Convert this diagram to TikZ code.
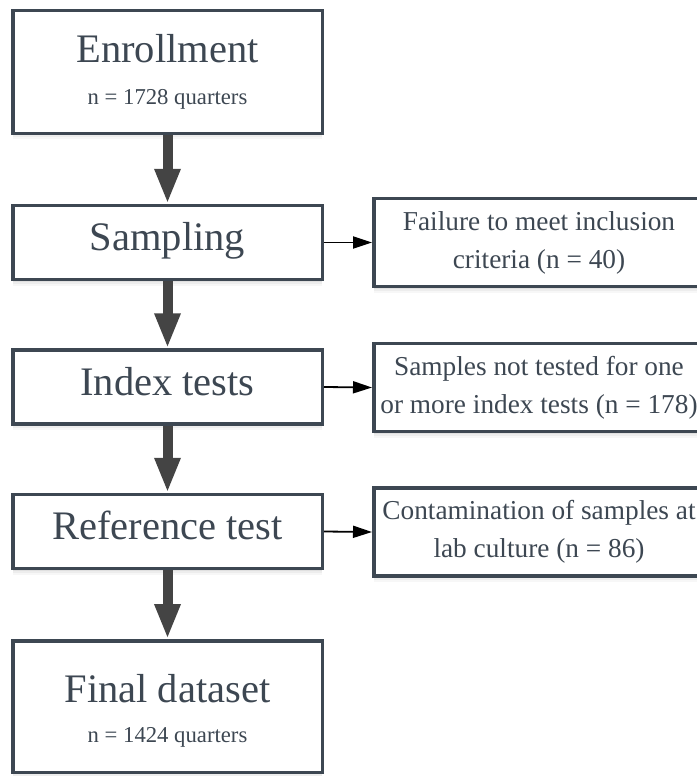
\documentclass[tikz,border=0pt]{standalone}
\usepackage{fontspec}
\setmainfont{Liberation Serif}
\usetikzlibrary{arrows.meta, shadows}

\begin{document}
\begin{tikzpicture}[x=1pt, y=-1pt,
    softShadow/.style={
        drop shadow={shadow xshift=0pt, shadow yshift=-2pt, opacity=0.06, fill=black},
        drop shadow={shadow xshift=0pt, shadow yshift=-4pt, opacity=0.04, fill=black},
        drop shadow={shadow xshift=0pt, shadow yshift=-6pt, opacity=0.03, fill=black}},
    stageBox/.style={draw=borderColour, line width=3.5pt, fill=white, softShadow,
        minimum width=309.5pt, minimum height=74pt, inner sep=0pt, text=textColour,
        font=\fontsize{40.5}{48}\selectfont, text height=27pt, text depth=11pt},
    titleText/.style={text=textColour, inner sep=0pt, font=\fontsize{40.5}{48}\selectfont},
    countText/.style={text=textColour, inner sep=0pt, font=\fontsize{22.7}{27}\selectfont},
    exclusionBox/.style={draw=borderColour, line width=3.5pt, fill=white, softShadow,
        minimum width=330.5pt, minimum height=88pt, inner sep=4pt, text=textColour,
        align=center, font=\fontsize{27.3}{38}\selectfont},
    flowArrow/.style={line width=10pt, draw=arrowColour, -{Triangle[length=35pt, width=24pt]}},
    sideArrow/.style={line width=1.8pt, draw=black, -{Triangle[length=19pt, width=12pt]}}
]
    % Define colors
    \definecolor{borderColour}{HTML}{3D4752}
    \definecolor{textColour}{HTML}{3D4752}
    \definecolor{arrowColour}{HTML}{444444}

    % Fix the page size
    \useasboundingbox (0,0) rectangle (696,776);

    % Draw the stages of the flow
    \node[stageBox, minimum height=122.5pt] (Enrollment) at (167.5,72) {};
    \node[titleText, anchor=base] (EnrollmentTitle) at (167.5,63) {Enrollment};
    \node[countText, anchor=base] (EnrollmentCount) at (167.5,104) {n = 1728 quarters};

    \node[stageBox] (Sampling) at (167.5,242.5) {Sampling};
    \node[stageBox] (IndexTests) at (167.5,387) {Index tests};
    \node[stageBox] (ReferenceTest) at (167.5,531.5) {Reference test};

    \node[stageBox, minimum height=131.5pt] (FinalDataset) at (167.5,706.5) {};
    \node[titleText, anchor=base] (FinalTitle) at (167.5,702) {Final dataset};
    \node[countText, anchor=base] (FinalCount) at (167.5,742) {n = 1424 quarters};

    % Draw the excluded samples
    \node[exclusionBox] (Exclusion1) at (539,242.5) {Failure to meet inclusion\\criteria (n = 40)};
    \node[exclusionBox] (Exclusion2) at (539,387.5) {Samples not tested for one\\or more index tests (n = 178)};
    \node[exclusionBox] (Exclusion3) at (539,532) {Contamination of samples at\\lab culture (n = 86)};

    % Connect the stages
    \draw[flowArrow] (Enrollment.south) -- (Sampling.north);
    \draw[flowArrow] (Sampling.south) -- (IndexTests.north);
    \draw[flowArrow] (IndexTests.south) -- (ReferenceTest.north);
    \draw[flowArrow] (ReferenceTest.south) -- (FinalDataset.north);

    % Connect the exclusions
    \draw[sideArrow] (Sampling.east) -- (Exclusion1.west);
    \draw[sideArrow] (IndexTests.east) -- (Exclusion2.west);
    \draw[sideArrow] (ReferenceTest.east) -- (Exclusion3.west);

\end{tikzpicture}
\end{document}
